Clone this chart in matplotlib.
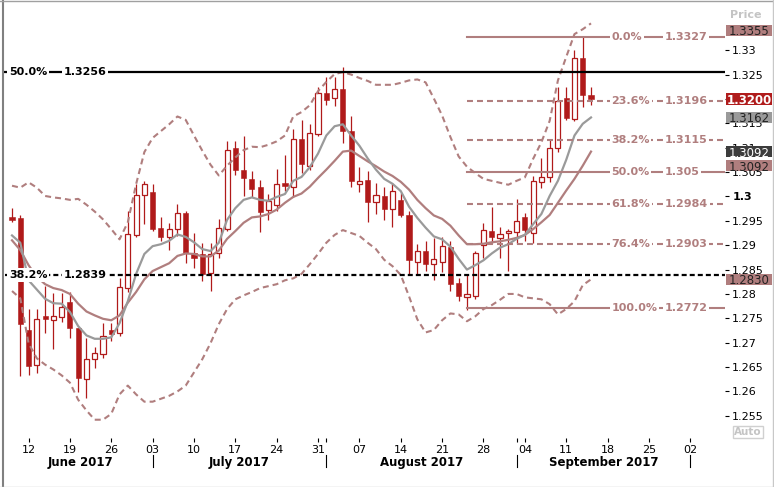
import matplotlib
matplotlib.use("Agg")
import matplotlib.pyplot as plt
from matplotlib.patches import Rectangle
from matplotlib.lines import Line2D
import numpy as np

# ====== data (daily candles 8 Jun - 14 Sep 2017) ======
opens = [1.2958, 1.2955, 1.2727, 1.2655, 1.2754, 1.2747, 1.2752, 1.2783, 1.2730, 1.2626,
         1.2667, 1.2677, 1.2727, 1.2720, 1.2812, 1.2920, 1.3003, 1.3010, 1.2935, 1.2917,
         1.2933, 1.2966, 1.2885, 1.2881, 1.2843, 1.2883, 1.2933, 1.3100, 1.3054, 1.3036,
         1.3020, 1.2972, 1.2982, 1.3028, 1.3020, 1.3118, 1.3063, 1.3128, 1.3213, 1.3201,
         1.3220, 1.3135, 1.3025, 1.3034, 1.2988, 1.3000, 1.2974, 1.2992, 1.2962, 1.2866,
         1.2888, 1.2862, 1.2866, 1.2896, 1.2823, 1.2794, 1.2795, 1.2900, 1.2929, 1.2915,
         1.2924, 1.2928, 1.2958, 1.2924, 1.3029, 1.3039, 1.3099, 1.3202, 1.3158, 1.3283,
         1.3208]
highs = [1.2977, 1.2962, 1.2769, 1.2769, 1.2816, 1.2802, 1.2802, 1.2805, 1.2730, 1.2710,
         1.2691, 1.2740, 1.2740, 1.2833, 1.2970, 1.3025, 1.3031, 1.3025, 1.2957, 1.2946,
         1.2984, 1.2970, 1.2926, 1.2905, 1.2905, 1.2953, 1.3113, 1.3113, 1.3125, 1.3053,
         1.3034, 1.3005, 1.3056, 1.3084, 1.3139, 1.3157, 1.3149, 1.3224, 1.3245, 1.3245,
         1.3266, 1.3164, 1.3061, 1.3053, 1.3027, 1.3020, 1.3027, 1.3008, 1.2970, 1.2903,
         1.2909, 1.2915, 1.2917, 1.2909, 1.2833, 1.2840, 1.2888, 1.2945, 1.2979, 1.2937,
         1.2933, 1.2995, 1.2967, 1.3041, 1.3078, 1.3115, 1.3224, 1.3224, 1.3300, 1.3327,
         1.3224]
lows = [1.2948, 1.2631, 1.2633, 1.2637, 1.2720, 1.2688, 1.2742, 1.2710, 1.2598, 1.2586,
        1.2649, 1.2668, 1.2703, 1.2713, 1.2805, 1.2917, 1.2944, 1.2929, 1.2909, 1.2890,
        1.2919, 1.2864, 1.2854, 1.2826, 1.2807, 1.2874, 1.2929, 1.3043, 1.3001, 1.2998,
        1.2928, 1.2951, 1.2970, 1.3012, 1.2999, 1.3049, 1.3054, 1.3125, 1.3187, 1.3185,
        1.3109, 1.3020, 1.3010, 1.2948, 1.2964, 1.2951, 1.2937, 1.2957, 1.2840, 1.2840,
        1.2847, 1.2828, 1.2845, 1.2807, 1.2785, 1.2768, 1.2789, 1.2874, 1.2905, 1.2874,
        1.2847, 1.2903, 1.2909, 1.2905, 1.3018, 1.3029, 1.3091, 1.3156, 1.3155, 1.3183,
        1.3187]
closes = [1.2952, 1.2738, 1.2653, 1.2749, 1.2749, 1.2754, 1.2773, 1.2730, 1.2627, 1.2667,
          1.2679, 1.2714, 1.2718, 1.2814, 1.2922, 1.3003, 1.3025, 1.2934, 1.2917, 1.2933,
          1.2967, 1.2885, 1.2874, 1.2841, 1.2881, 1.2935, 1.3095, 1.3054, 1.3038, 1.3016,
          1.2969, 1.2991, 1.3025, 1.3022, 1.3118, 1.3067, 1.3131, 1.3213, 1.3197, 1.3221,
          1.3135, 1.3032, 1.3031, 1.2988, 1.3003, 1.2974, 1.3012, 1.2962, 1.2869, 1.2888,
          1.2862, 1.2871, 1.2898, 1.2821, 1.2795, 1.2799, 1.2883, 1.2931, 1.2917, 1.2922,
          1.2929, 1.2950, 1.2931, 1.3031, 1.3040, 1.3099, 1.3196, 1.3161, 1.3283, 1.3209,
          1.3200]

# Bollinger bands + fast MA
upper_band = [1.3022, 1.3018, 1.3029, 1.3018, 1.3001, 1.2998, 1.2996, 1.2993, 1.2995, 1.2983,
              1.2969, 1.2953, 1.2933, 1.2912, 1.2947, 1.3025, 1.3091, 1.3120, 1.3134, 1.3148,
              1.3164, 1.3157, 1.3125, 1.3094, 1.3065, 1.3043, 1.3063, 1.3080, 1.3095, 1.3102,
              1.3101, 1.3106, 1.3113, 1.3125, 1.3164, 1.3173, 1.3187, 1.3216, 1.3235, 1.3251,
              1.3255, 1.3250, 1.3243, 1.3237, 1.3229, 1.3229, 1.3229, 1.3233, 1.3238, 1.3240,
              1.3234, 1.3201, 1.3166, 1.3122, 1.3082, 1.3061, 1.3048, 1.3036, 1.3032, 1.3028,
              1.3024, 1.3032, 1.3039, 1.3077, 1.3111, 1.3155, 1.3238, 1.3286, 1.3333, 1.3343,
              1.3355]
mid_band = [1.2910, 1.2890, 1.2859, 1.2835, 1.2820, 1.2812, 1.2808, 1.2800, 1.2780, 1.2764,
            1.2756, 1.2749, 1.2746, 1.2756, 1.2782, 1.2804, 1.2830, 1.2847, 1.2855, 1.2863,
            1.2878, 1.2883, 1.2882, 1.2877, 1.2877, 1.2889, 1.2913, 1.2929, 1.2946, 1.2957,
            1.2959, 1.2964, 1.2973, 1.2987, 1.2999, 1.3006, 1.3020, 1.3038, 1.3055, 1.3073,
            1.3092, 1.3094, 1.3083, 1.3072, 1.3062, 1.3051, 1.3042, 1.3030, 1.3014, 1.2993,
            1.2976, 1.2961, 1.2954, 1.2940, 1.2920, 1.2902, 1.2902, 1.2903, 1.2906, 1.2908,
            1.2911, 1.2915, 1.2921, 1.2933, 1.2947, 1.2962, 1.2987, 1.3012, 1.3036, 1.3063,
            1.3092]
lower_band = [1.2806, 1.2791, 1.2699, 1.2668, 1.2655, 1.2645, 1.2633, 1.2618, 1.2583, 1.2561,
              1.2542, 1.2542, 1.2554, 1.2594, 1.2612, 1.2594, 1.2579, 1.2579, 1.2585, 1.2591,
              1.2600, 1.2612, 1.2639, 1.2666, 1.2699, 1.2738, 1.2769, 1.2789, 1.2797, 1.2804,
              1.2812, 1.2816, 1.2820, 1.2828, 1.2832, 1.2841, 1.2861, 1.2882, 1.2905, 1.2921,
              1.2931, 1.2925, 1.2919, 1.2905, 1.2892, 1.2870, 1.2857, 1.2839, 1.2795, 1.2748,
              1.2721, 1.2726, 1.2746, 1.2760, 1.2758, 1.2744, 1.2754, 1.2769, 1.2777, 1.2788,
              1.2800, 1.2800, 1.2793, 1.2791, 1.2789, 1.2779, 1.2758, 1.2769, 1.2785, 1.2818,
              1.2830]
fast_ma = [1.2920, 1.2905, 1.2828, 1.2809, 1.2790, 1.2781, 1.2780, 1.2763, 1.2734, 1.2715,
           1.2708, 1.2708, 1.2711, 1.2740, 1.2785, 1.2841, 1.2882, 1.2898, 1.2902, 1.2909,
           1.2922, 1.2917, 1.2906, 1.2892, 1.2888, 1.2905, 1.2952, 1.2976, 1.2993, 1.2998,
           1.2993, 1.2991, 1.2999, 1.3005, 1.3032, 1.3040, 1.3060, 1.3088, 1.3125, 1.3144,
           1.3148, 1.3125, 1.3104, 1.3078, 1.3055, 1.3036, 1.3026, 1.3011, 1.2979, 1.2956,
           1.2936, 1.2918, 1.2912, 1.2897, 1.2872, 1.2850, 1.2859, 1.2869, 1.2883, 1.2895,
           1.2902, 1.2913, 1.2921, 1.2943, 1.2964, 1.3001, 1.3032, 1.3075, 1.3125, 1.3149,
           1.3162]

# Fibonacci retracement (right, Aug low -> Sep high)
fib_pcts = ["0.0%", "23.6%", "38.2%", "50.0%", "61.8%", "76.4%", "100.0%"]
fib_vals = [1.3327, 1.3196, 1.3115, 1.305, 1.2984, 1.2903, 1.2772]
fib_texts = ["1.3327", "1.3196", "1.3115", "1.305", "1.2984", "1.2903", "1.2772"]
fib_start = 55   # candle of the 1.2772 low

# longer-term fib levels (black)
big_pcts = ["50.0%", "38.2%"]
big_vals = [1.3256, 1.2839]
big_texts = ["1.3256", "1.2839"]

# price axis tags
tag_vals = [1.3355, 1.3200, 1.3162, 1.3092, 1.3092, 1.2830]

# x axis: weekly (Monday) ticks, in trading-day index
week_idx = [2, 7, 12, 17, 22, 27, 32, 37, 42, 47, 52, 57, 62, 67, 72, 77, 82]
week_labels = ["12", "19", "26", "03", "10", "17", "24", "31", "07", "14",
               "21", "28", "04", "11", "18", "25", "02"]
month_idx = [17, 38, 61, 82]
month_names = ["June 2017", "July 2017", "August 2017", "September 2017"]

# ====== style ======
plt.rcParams["font.family"] = "DejaVu Sans"
plt.rcParams["lines.scale_dashes"] = False
RED = "#b01a1a"
ROSY = "#b07e7e"
GRAY = "#9a9a9a"
DASH = (4.3, 2.9)

W, H = 774, 487
fig = plt.figure(figsize=(W / 100, H / 100), dpi=100)
ax = fig.add_axes([3 / W, 1 - 438 / H, 722 / W, 437 / H])
XMIN, XMAX = -1.09, 86.2
ax.set_xlim(XMIN, XMAX)
ax.set_ylim(1.25045, 1.34009)
for s in ax.spines.values():
    s.set_visible(False)

# ====== candles ======
for i in range(len(opens)):
    o, h, l, c = opens[i], highs[i], lows[i], closes[i]
    bull = c >= o
    ax.vlines(i, l, h, color=RED, lw=0.9, zorder=2)
    ax.bar(i, max(abs(c - o), 0.00006), bottom=min(o, c), width=0.62,
           facecolor="white" if bull else RED, edgecolor=RED,
           linewidth=0.9 if bull else 0.4, zorder=3)

# ====== indicators ======
idx = np.arange(len(opens))
ax.plot(idx, upper_band, color=ROSY, lw=1.5, dashes=DASH, zorder=4)
ax.plot(idx, lower_band, color=ROSY, lw=1.5, dashes=DASH, zorder=4)
ax.plot(idx, mid_band, color=ROSY, lw=1.6, zorder=4)
ax.plot(idx, fast_ma, color=GRAY, lw=1.6, zorder=4)

# ====== fib levels ======
txt_box = dict(facecolor="white", edgecolor="none", pad=1.2)
for pct, v, t in zip(fib_pcts, fib_vals, fib_texts):
    solid = pct in ("0.0%", "50.0%", "100.0%")
    if solid:
        ax.plot([fib_start, XMAX], [v, v], color=ROSY, lw=1.5, zorder=4)
    else:
        ax.plot([fib_start, XMAX], [v, v], color=ROSY, lw=1.5, dashes=DASH, zorder=4)
    ax.text(72.45, v, pct, color=ROSY, fontsize=8, fontweight="bold",
            ha="left", va="center", bbox=txt_box, zorder=6)
    ax.text(78.9, v, t, color=ROSY, fontsize=8, fontweight="bold",
            ha="left", va="center", bbox=txt_box, zorder=6)

for k, (pct, v, t) in enumerate(zip(big_pcts, big_vals, big_texts)):
    if k == 0:
        ax.plot([-0.85, XMAX], [v, v], color="black", lw=1.6, zorder=5)
    else:
        ax.plot([-0.85, XMAX], [v, v], color="black", lw=1.6, dashes=(3.6, 2.2), zorder=5)
    ax.text(-0.35, v, pct, color="black", fontsize=8, fontweight="bold",
            ha="left", va="center", bbox=txt_box, zorder=6)
    ax.text(6.2, v, t, color="black", fontsize=8, fontweight="bold",
            ha="left", va="center", bbox=txt_box, zorder=6)

# ====== y axis (right) ======
yt = np.round(np.arange(1.255, 1.3301, 0.005), 3)
ax.yaxis.tick_right()
ax.set_yticks(yt)
ax.set_yticklabels([f"{v:g}" for v in yt])
ax.tick_params(axis="y", length=3, width=0.8, pad=2.2, labelsize=8)
for lbl, v in zip(ax.get_yticklabels(), yt):
    if abs(v - 1.3) < 1e-9:
        lbl.set_fontweight("bold")

# ====== x axis ======
ax.set_xticks(week_idx)
ax.set_xticklabels(week_labels)
ax.set_xticks([38, 61], minor=True)
ax.tick_params(axis="x", which="both", length=3, width=0.8, pad=2, labelsize=8)

xtr = ax.get_xaxis_transform()
edges = [-0.4] + month_idx
for m in month_idx:
    ax.plot([m, m], [-0.039, -0.066], transform=xtr, color="black", lw=0.8, clip_on=False)
for k, name in enumerate(month_names):
    ax.text((edges[k] + edges[k + 1]) / 2, -0.055, name, transform=xtr,
            ha="center", va="center", fontsize=8.5, fontweight="bold")

# ====== price tags on the right ======
tag_styles = [  # facecolor, textcolor, weight, shift down (px)
    (ROSY, "#222222", "normal", 7),
    ("#b01c1c", "white", "bold", 0),
    ("#9a9a9a", "#222222", "normal", 0),
    ("#3c3c3c", "white", "normal", 0),
    (ROSY, "#222222", "normal", 14),
    (ROSY, "#222222", "normal", 0),
]
fig.canvas.draw()
for v, (fc, tc, w, dy) in zip(tag_vals, tag_styles):
    ypx = ax.transData.transform((0, v))[1] - dy
    fig.patches.append(Rectangle((726 / W, (ypx - 5.8) / H), 46 / W, 11.6 / H,
                                 transform=fig.transFigure, facecolor=fc,
                                 edgecolor="none", zorder=2))
    fig.text(749 / W, ypx / H, f"{v:.4f}", ha="center", va="center_baseline",
             fontsize=8.5, color=tc, fontweight=w, zorder=3)

fig.text(746 / W, 1 - 15 / H, "Price", ha="center", va="center",
         fontsize=8, fontweight="bold", color="#c4c4c4")
fig.text(748 / W, 1 - 432 / H, "Auto", ha="center", va="center",
         fontsize=7.5, fontweight="bold", color="#c4c4c4",
         bbox=dict(facecolor="white", edgecolor="#d0d0d0", pad=1.0))

# ====== outer frame ======
fig.add_artist(Line2D([2.5 / W, 2.5 / W], [0, 1], color="#808080", lw=1.5))
fig.add_artist(Line2D([0, 1], [1 - 1 / H, 1 - 1 / H], color="#a0a0a0", lw=1))
fig.add_artist(Line2D([772.5 / W, 772.5 / W], [0, 1], color="#c8c8c8", lw=1))
fig.add_artist(Line2D([0, 1], [0.5 / H, 0.5 / H], color="#c8c8c8", lw=1))

fig.savefig("out.png", dpi=100)
